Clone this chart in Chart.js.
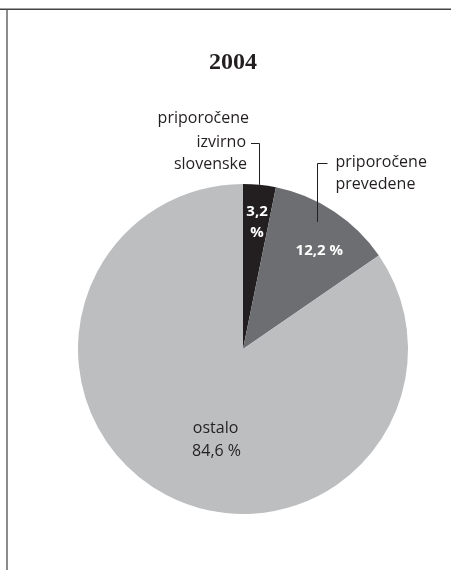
<!DOCTYPE html>
<html>
<head>
<meta charset="utf-8">
<script src="https://cdn.jsdelivr.net/npm/chart.js@4"></script>
<style>
  html, body { margin: 0; padding: 0; background: #fff; }
  #wrap { width: 451px; height: 570px; position: relative; }
</style>
</head>
<body>
<div id="wrap"><canvas id="c" width="451" height="570"></canvas></div>
<script>
// Share of books in 2004 (percent)
const title = '2004';
const categories = ['priporočene izvirno slovenske', 'priporočene prevedene', 'ostalo'];
const values = [3.2, 12.2, 84.6];
const valueLabels = ['3,2 %', '12,2 %', '84,6 %'];
const sliceColors = ['#231F20', '#6D6E71', '#BDBEC0'];

const SANS = '"Open Sans", sans-serif';

// Frame lines, title, in-slice labels and callouts with leader lines
const decorations = {
  id: 'decorations',
  afterDraw(chart) {
    const ctx = chart.ctx;
    const arcs = chart.getDatasetMeta(0).data;
    const cx = arcs[0].x, cy = arcs[0].y, R = arcs[0].outerRadius;
    const polar = (angle, r) => ({ x: cx + Math.cos(angle) * r, y: cy + Math.sin(angle) * r });
    const mid = a => (a.startAngle + a.endAngle) / 2;

    ctx.save();
    // frame
    ctx.strokeStyle = '#444';
    ctx.lineWidth = 1.5;
    ctx.beginPath(); ctx.moveTo(0, 9.25); ctx.lineTo(451, 9.25); ctx.stroke();
    ctx.strokeStyle = '#8c8c8c';
    ctx.lineWidth = 2;
    ctx.beginPath(); ctx.moveTo(7, 10); ctx.lineTo(7, 570); ctx.stroke();

    // title
    ctx.fillStyle = '#231F20';
    ctx.font = 'bold 24px "Liberation Serif", serif';
    ctx.textAlign = 'center';
    ctx.textBaseline = 'middle';
    ctx.fillText(title, cx - 10, 63);

    // white bold values inside the dark slices
    ctx.fillStyle = '#ffffff';
    ctx.font = 'bold 15px ' + SANS;
    const p0 = { x: cx + R * 0.085, y: cy - R * 0.77 };
    const parts0 = valueLabels[0].split(' ');
    ctx.fillText(parts0[0], p0.x, p0.y - 10);
    ctx.fillText(parts0[1], p0.x, p0.y + 11);
    const p1 = polar(mid(arcs[1]) + 0.08, R * 0.76);
    ctx.fillText(valueLabels[1], p1.x - 1, p1.y);

    // label inside the large slice
    ctx.fillStyle = '#231F20';
    ctx.font = '16px ' + SANS;
    const p2 = { x: cx - R * 0.16, y: cy + R * 0.55 };
    ctx.fillText(categories[2], p2.x - 1, p2.y - 11);
    ctx.fillText(valueLabels[2], p2.x, p2.y + 12);

    // callout for the first slice
    ctx.strokeStyle = '#231F20';
    ctx.lineWidth = 1;
    const e0 = polar(mid(arcs[0]) - 0.005, R);
    const bend0y = cy - R * 1.25;
    ctx.beginPath();
    ctx.moveTo(Math.round(e0.x) + 0.5, e0.y);
    ctx.lineTo(Math.round(e0.x) + 0.5, Math.round(bend0y) + 0.5);
    ctx.lineTo(Math.round(e0.x) - 8, Math.round(bend0y) + 0.5);
    ctx.stroke();
    const words0 = ['priporočene', 'izvirno', 'slovenske'];
    ctx.textAlign = 'right';
    const tx0 = Math.round(e0.x) - 11;
    ctx.fillText(words0[0], tx0 + 1, bend0y - 24);
    ctx.fillText(words0[1], tx0 - 2, bend0y);
    ctx.fillText(words0[2], tx0 - 1, bend0y + 22);

    // callout for the second slice
    const e1 = polar(mid(arcs[1]) - 0.06, R * 0.89);
    const bend1y = cy - R * 1.13;
    const lx = Math.round(e1.x) + 0.5;
    ctx.beginPath();
    ctx.moveTo(lx, e1.y);
    ctx.lineTo(lx, Math.round(bend1y) + 0.5);
    ctx.lineTo(lx + 10, Math.round(bend1y) + 0.5);
    ctx.stroke();
    ctx.textAlign = 'left';
    ctx.fillText('priporočene', lx + 18, bend1y);
    ctx.fillText('prevedene', lx + 18, bend1y + 22);
    ctx.restore();
  }
};

new Chart(document.getElementById('c'), {
  type: 'pie',
  data: {
    labels: categories,
    datasets: [{
      data: values,
      backgroundColor: sliceColors,
      borderWidth: 0
    }]
  },
  options: {
    responsive: false,
    animation: false,
    layout: { padding: { left: 78, right: 43, top: 184, bottom: 56 } },
    plugins: {
      legend: { display: false },
      tooltip: { enabled: false },
      title: { display: false }
    }
  },
  plugins: [decorations]
});
</script>
</body>
</html>
